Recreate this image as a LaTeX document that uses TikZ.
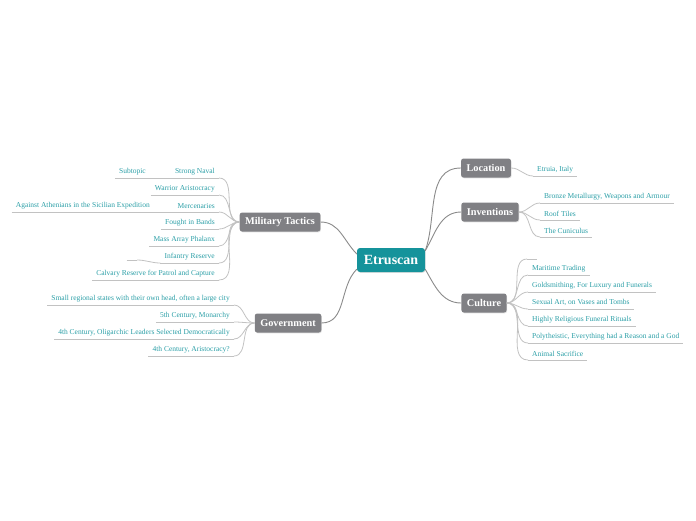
\documentclass[tikz,border=0pt]{standalone}
\usepackage{fontspec}
\setmainfont{Liberation Serif}
\usepackage{tikz}
\usetikzlibrary{shadows, positioning}
\definecolor{rootteal}{HTML}{15939B}
\definecolor{topicgray}{HTML}{808084}
\definecolor{leafteal}{HTML}{2A9EA6}
\definecolor{branchgray}{HTML}{8A8A8A}
\definecolor{leafline}{HTML}{C2C2C2}
\tikzstyle{root} = [rectangle, rounded corners=3pt,
minimum width=68pt, minimum height=24pt,
fill=rootteal, text=white,
font=\bfseries\fontsize{14}{16}\selectfont,
drop shadow={opacity=0.25, shadow xshift=0.6pt, shadow yshift=-0.8pt}]
\tikzstyle{topic} = [rectangle, rounded corners=2.5pt,
minimum height=19pt, inner xsep=5.5pt,
fill=topicgray, text=white,
font=\bfseries\fontsize{10.3}{12}\selectfont,
drop shadow={opacity=0.25, shadow xshift=0.6pt, shadow yshift=-0.8pt}]
\tikzstyle{leaf} = [inner xsep=4pt, inner ysep=2.8pt, text=leafteal,
font=\fontsize{7.5}{9}\selectfont,
append after command={(\tikzlastnode.south west) edge[uline] (\tikzlastnode.south east)}]
\tikzstyle{rleaf} = [leaf, anchor=south west]
\tikzstyle{lleaf} = [leaf, anchor=south east]
\tikzstyle{uline} = [draw=leafline, line width=0.8pt]
\tikzstyle{branch} = [draw=branchgray, line width=0.9pt]
\tikzstyle{twig} = [draw=leafline, line width=0.8pt]

\begin{document}
\begin{tikzpicture}[x=1pt, y=1pt]
\useasboundingbox (0,0) rectangle (696,-520);

% central topic and main branches
\node (root) [root] at (391,-260) {Etruscan};
\node (loc) [topic] at (486,-168) {Location};
\node (inv) [topic] at (490,-212) {Inventions};
\node (cul) [topic] at (484,-303) {Culture};
\node (mil) [topic] at (280,-222) {Military Tactics};
\node (gov) [topic] at (288,-323) {Government};

\draw [branch] (root.15) to[out=70, in=180] (loc.west);
\draw [branch] (root.15) to[out=60, in=180] (inv.west);
\draw [branch] (root.-15) to[out=-60, in=180] (cul.west);
\draw [branch] (mil.east) to[out=0, in=135] (root.170);
\draw [branch] (gov.east) to[out=0, in=225] (root.195);

% Location
\node (etr) [rleaf] at (533,-176) {Etruia, Italy};
\draw [twig] (loc.east) to[out=0, in=180] (etr.south west);

% Inventions
\node (bro) [rleaf] at (540,-203) {Bronze Metallurgy, Weapons and Armour};
\node (roof) [rleaf] at (540,-220) {Roof Tiles};
\node (cun) [rleaf] at (540,-237) {The Cuniculus};
\foreach \n in {bro, roof, cun}
  \draw [twig] (inv.east) to[out=0, in=180] (\n.south west);

% Culture
\node (c0) [rleaf, minimum width=10pt] at (527,-259) {};
\node (c1) [rleaf] at (528,-275) {Maritime Trading};
\node (c2) [rleaf] at (528,-292) {Goldsmithing, For Luxury and Funerals};
\node (c3) [rleaf] at (528,-309) {Sexual Art, on Vases and Tombs};
\node (c4) [rleaf] at (528,-326) {Highly Religious Funeral Rituals};
\node (c5) [rleaf] at (528,-343) {Polytheistic, Everything had a Reason and a God};
\node (c6) [rleaf] at (528,-360) {Animal Sacrifice};
\foreach \n in {c0, c1, c2, c3, c4, c5, c6}
  \draw [twig] (cul.east) to[out=0, in=180] (\n.south west);

% Military Tactics
\node (m1) [lleaf] at (219,-178) {Strong Naval};
\node (m2) [lleaf] at (219,-195) {Warrior Aristocracy};
\node (m3) [lleaf] at (219,-212) {Mercenaries};
\node (m4) [lleaf] at (219,-229) {Fought in Bands};
\node (m5) [lleaf] at (219,-246) {Mass Array Phalanx};
\node (m6) [lleaf] at (219,-263) {Infantry Reserve};
\node (m7) [lleaf] at (219,-280) {Calvary Reserve for Patrol and Capture};
\foreach \n in {m1, m2, m3, m4, m5, m6, m7}
  \draw [twig] (mil.west) to[out=180, in=0] (\n.south east);

\node (sub) [lleaf] at (150,-178) {Subtopic};
\draw [twig] (m1.south west) -- (sub.south east);
\node (ath) [lleaf] at (154,-212) {Against Athenians in the Sicilian Expedition};
\draw [twig] (m3.south west) -- (ath.south east);
\node (inf) [lleaf, minimum width=10pt] at (137,-260) {};
\draw [twig] (m6.south west) to[out=180, in=0] (inf.south east);

% Government
\node (g1) [lleaf] at (234,-305) {Small regional states with their own head, often a large city};
\node (g2) [lleaf] at (234,-322) {5th Century, Monarchy};
\node (g3) [lleaf] at (234,-339) {4th Century, Oligarchic Leaders Selected Democratically};
\node (g4) [lleaf] at (234,-356) {4th Century, Aristocracy?};
\foreach \n in {g1, g2, g3, g4}
  \draw [twig] (gov.west) to[out=180, in=0] (\n.south east);
\end{tikzpicture}
\end{document}
